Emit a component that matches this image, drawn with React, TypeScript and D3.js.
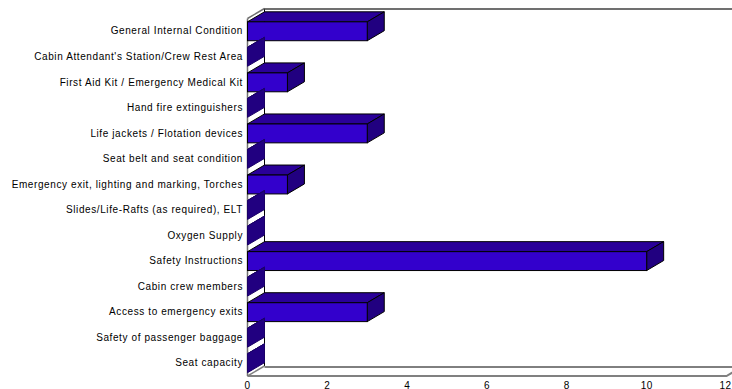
import React from "react";
import * as d3 from "d3";

const categories = [
  "General Internal Condition",
  "Cabin Attendant's Station/Crew Rest Area",
  "First Aid Kit / Emergency Medical Kit",
  "Hand fire extinguishers",
  "Life jackets / Flotation devices",
  "Seat belt and seat condition",
  "Emergency exit, lighting and marking, Torches",
  "Slides/Life-Rafts (as required), ELT",
  "Oxygen Supply",
  "Safety Instructions",
  "Cabin crew members",
  "Access to emergency exits",
  "Safety of passenger baggage",
  "Seat capacity",
];
const counts = [3, 0, 1, 0, 3, 0, 1, 0, 0, 10, 0, 3, 0, 0];
const xTicks = [0, 2, 4, 6, 8, 10, 12];

const WIDTH = 732;
const HEIGHT = 389;
const DEPTH_X = 17;
const DEPTH_Y = 10;
const FONT = "'Liberation Sans', Arial, sans-serif";

const x = d3.scaleLinear().domain([0, 12]).range([247.5, 726.5]);
const y = d3.scaleBand().domain(categories).range([18.5, 376]).paddingInner(0.26).paddingOuter(0.13);

const poly = (pts: [number, number][]) => pts.map((p) => p.join(",")).join(" ");

export default function App() {
  const x0 = x(0);
  const xEnd = x(12);
  const [top, bottom] = y.range();
  return (
    <svg
      width={WIDTH}
      height={HEIGHT}
      viewBox={`0 0 ${WIDTH} ${HEIGHT}`}
      style={{ position: "fixed", left: 0, top: 0, background: "#fff" }}
    >
      {/* back wall and floor outlines */}
      <line x1={x0 + DEPTH_X} x2={WIDTH} y1={top - DEPTH_Y + 0.5} y2={top - DEPTH_Y + 0.5} stroke="#707070" strokeWidth={2} />
      <line x1={x0 + DEPTH_X} x2={WIDTH} y1={bottom - DEPTH_Y + 1} y2={bottom - DEPTH_Y + 1} stroke="#000" strokeWidth={1} />
      <line x1={x0 + DEPTH_X} x2={x0 + DEPTH_X} y1={top - DEPTH_Y} y2={bottom - DEPTH_Y} stroke="#000" />
      <polyline
        points={poly([
          [x0, bottom],
          [xEnd, bottom],
          [xEnd + DEPTH_X, bottom - DEPTH_Y],
        ])}
        fill="none"
        stroke="#808080"
        strokeWidth={2}
      />
      <line x1={x0} x2={x0 + DEPTH_X} y1={bottom} y2={bottom - DEPTH_Y} stroke="#808080" strokeWidth={1.5} />
      <line x1={x0} x2={x0} y1={top} y2={bottom} stroke="#707070" strokeWidth={1.5} />
      <line x1={x0} x2={x0 + DEPTH_X} y1={top} y2={top - DEPTH_Y} stroke="#707070" strokeWidth={1.5} />

      {/* 3D bars */}
      {categories.map((name, i) => {
        const by = y(name)!;
        const bh = y.bandwidth();
        const bx = x(counts[i]);
        const edge = counts[i] > 0 ? "#000" : "#1a0066";
        return (
          <g key={name} stroke={edge} strokeWidth={1}>
            <polygon
              points={poly([
                [x0, by],
                [x0 + DEPTH_X, by - DEPTH_Y],
                [bx + DEPTH_X, by - DEPTH_Y],
                [bx, by],
              ])}
              fill="#2a0099"
            />
            <polygon
              points={poly([
                [bx, by],
                [bx + DEPTH_X, by - DEPTH_Y],
                [bx + DEPTH_X, by + bh - DEPTH_Y],
                [bx, by + bh],
              ])}
              fill="#210080"
            />
            {counts[i] > 0 && <rect x={x0} y={by} width={bx - x0} height={bh} fill="#3300cc" />}
          </g>
        );
      })}

      {/* category labels */}
      {categories.map((name) => (
        <text
          key={name}
          x={243}
          y={y(name)! + y.bandwidth() / 2 + 3.2}
          textAnchor="end"
          fontFamily={FONT}
          fontSize={10}
          letterSpacing={0.6}
          fill="#000"
        >
          {name}
        </text>
      ))}

      {/* value axis labels */}
      {xTicks.map((t) => (
        <text key={t} x={Math.min(x(t), 725.5)} y={388.5} textAnchor="middle" fontFamily={FONT} fontSize={10} letterSpacing={0.4} fill="#000">
          {t}
        </text>
      ))}
    </svg>
  );
}
